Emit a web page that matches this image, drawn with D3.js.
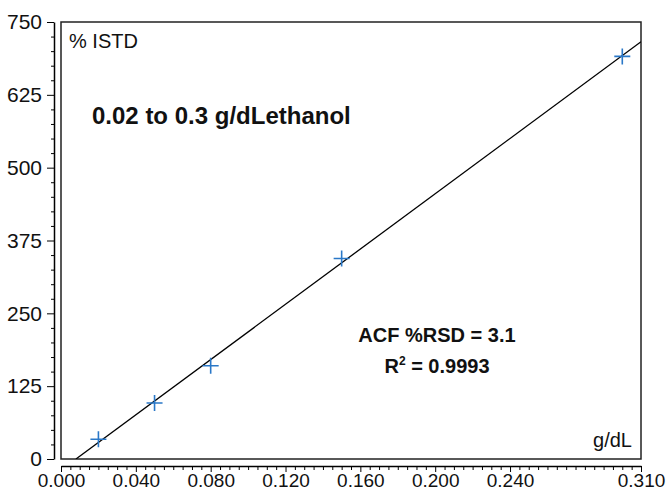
<!DOCTYPE html>
<html>
<head>
<meta charset="utf-8">
<script src="https://cdn.jsdelivr.net/npm/d3@7"></script>
<style>
  body { margin: 0; background: #fff; }
  svg { display: block; font-family: "Liberation Sans", Arial, Helvetica, sans-serif; }
</style>
</head>
<body>
<div class="container"></div>
<script>
// calibration points, g/dL vs % ISTD
const conc = [0.02, 0.05, 0.08, 0.15, 0.30],
    response = [34, 96, 160, 344, 691];

// fitted line end points
const fitX = [0.008, 0.31],
    fitY = [0, 716];

const yTickValues = [0, 125, 250, 375, 500, 625, 750],
    xTickValues = [0, 0.04, 0.08, 0.12, 0.16, 0.20, 0.24, 0.31],
    xTickLabels = ['0.000', '0.040', '0.080', '0.120', '0.160', '0.200', '0.240', '0.310'];

const width = 668, height = 491,
    box = {left: 61, right: 641, top: 22, bottom: 459};

const svg = d3.select('.container')
    .append('svg')
    .attr('width', width)
    .attr('height', height);

const xScale = d3.scaleLinear()
    .domain([0, 0.31])
    .range([box.left, box.right]);

const yScale = d3.scaleLinear()
    .domain([0, 750])
    .range([box.bottom, box.top]);

// y axis, offset to the left of the box
const yMinor = d3.range(0, 751, 25).filter(v => v % 125 !== 0);

svg.append('g')
    .attr('transform', `translate(54, 0)`)
    .call(d3.axisLeft(yScale).tickValues(yMinor).tickSize(3).tickFormat(''))
    .call(g => g.select('.domain').remove());

svg.append('g')
    .attr('transform', `translate(54, 0)`)
    .call(d3.axisLeft(yScale).tickValues(yTickValues).tickSize(7).tickSizeOuter(0).tickPadding(5))
    .call(g => g.select('.domain').attr('stroke-width', 1.5))
    .call(g => g.selectAll('text').attr('font-size', 21).attr('fill', '#111').attr('font-family', null));

// x axis, offset below the box
const xMinor = d3.range(0, 63).map(i => i * 0.005).filter(v => !xTickValues.some(t => Math.abs(t - v) < 1e-9));

svg.append('g')
    .attr('transform', `translate(0, 466)`)
    .call(d3.axisBottom(xScale).tickValues(xMinor).tickSize(4).tickFormat(''))
    .call(g => g.select('.domain').remove());

svg.append('g')
    .attr('transform', `translate(0, 466)`)
    .call(d3.axisBottom(xScale).tickValues(xTickValues).tickSize(6).tickSizeOuter(0).tickPadding(2)
        .tickFormat((d, i) => xTickLabels[i]))
    .call(g => g.select('.domain').attr('stroke-width', 1.5))
    .call(g => g.selectAll('text').attr('font-size', 19).attr('fill', '#111').attr('font-family', null));

// plot frame
svg.append('rect')
    .attr('x', box.left)
    .attr('y', box.top)
    .attr('width', box.right - box.left)
    .attr('height', box.bottom - box.top)
    .attr('fill', 'none')
    .attr('stroke', '#222')
    .attr('stroke-width', 1.5);

svg.append('clipPath')
    .attr('id', 'plot-clip')
    .append('rect')
    .attr('x', box.left)
    .attr('y', box.top)
    .attr('width', box.right - box.left)
    .attr('height', box.bottom - box.top);

const line = d3.line()
    .x(d => xScale(d[0]))
    .y(d => yScale(d[1]));

svg.append('path')
    .datum(d3.zip(fitX, fitY))
    .attr('clip-path', 'url(#plot-clip)')
    .attr('d', line)
    .attr('fill', 'none')
    .attr('stroke', '#000')
    .attr('stroke-width', 1.3);

// plus markers
const s = 8;
svg.append('g')
    .selectAll('path')
    .data(d3.zip(conc, response))
    .join('path')
    .attr('d', d => {
        const x = xScale(d[0]), y = yScale(d[1]);
        return `M${x - s},${y}H${x + s}M${x},${y - s}V${y + s}`;
    })
    .attr('stroke', '#2a78c8')
    .attr('stroke-width', 1.6)
    .attr('fill', 'none');

// labels
svg.append('text')
    .attr('x', 69).attr('y', 48)
    .attr('font-size', 20)
    .attr('fill', '#111')
    .text('% ISTD');

svg.append('text')
    .attr('x', 632).attr('y', 447)
    .attr('text-anchor', 'end')
    .attr('font-size', 20)
    .attr('fill', '#111')
    .text('g/dL');

svg.append('text')
    .attr('x', 92).attr('y', 124)
    .attr('font-size', 24)
    .attr('font-weight', 'bold')
    .attr('fill', '#111')
    .text('0.02 to 0.3 g/dLethanol');

svg.append('text')
    .attr('x', 437).attr('y', 342)
    .attr('text-anchor', 'middle')
    .attr('font-size', 20)
    .attr('font-weight', 'bold')
    .attr('fill', '#111')
    .text('ACF %RSD = 3.1');

const r2 = svg.append('text')
    .attr('x', 437).attr('y', 373)
    .attr('text-anchor', 'middle')
    .attr('font-size', 20)
    .attr('font-weight', 'bold')
    .attr('fill', '#111');
r2.append('tspan').text('R');
r2.append('tspan').attr('dy', -8).attr('font-size', 12).text('2');
r2.append('tspan').attr('dy', 8).text(' = 0.9993');
</script>
</body>
</html>
